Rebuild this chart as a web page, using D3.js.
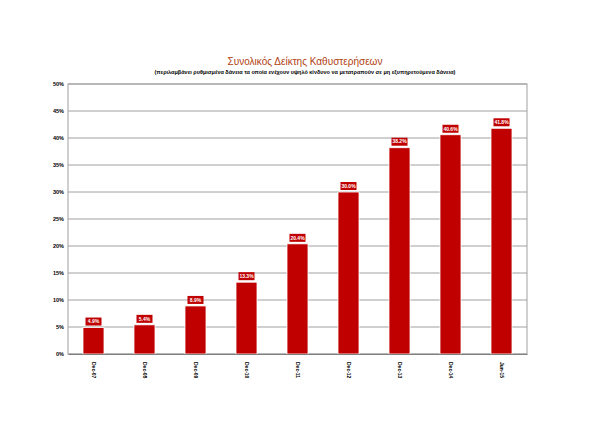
<!DOCTYPE html>
<html><head><meta charset="utf-8">
<script src="https://cdn.jsdelivr.net/npm/d3@7"></script>
<style>body{margin:0;background:#fff;font-family:Arial,"Liberation Sans",sans-serif}</style>
</head><body>
<script>
const categories = ['Dec-07','Dec-08','Dec-09','Dec-10','Dec-11','Dec-12','Dec-13','Dec-14','Jun-15']
const values = [4.9, 5.4, 8.9, 13.3, 20.4, 30.0, 38.2, 40.6, 41.8]
const yTicks = [0, 5, 10, 15, 20, 25, 30, 35, 40, 45, 50]

let width = 610, height = 431
let margin = { top: 84, bottom: 77, left: 68, right: 83 }

const svg = d3.select('body').append('svg').attr('width', width).attr('height', height)

svg.append('text').attr('x', 305).attr('y', 65).attr('text-anchor', 'middle')
  .style('font-size', '10px').style('fill', '#b0400f').text('Συνολικός Δείκτης Καθυστερήσεων')
svg.append('text').attr('x', 305).attr('y', 74).attr('text-anchor', 'middle')
  .style('font-size', '5.5px').style('font-weight', 'bold')
  .text('(περιλαμβάνει ρυθμισμένα δάνεια  τα οποία ενέχουν υψηλό κίνδυνο να μετατραπούν σε μη εξυπηρετούμενα δάνεια)')

const x = d3.scaleBand().domain(categories).range([margin.left, width - margin.right])
const y = d3.scaleLinear().domain([0, 50]).range([height - margin.bottom, margin.top])

// grid
svg.append('g').selectAll('line').data(yTicks).enter().append('line')
  .attr('x1', margin.left).attr('x2', width - margin.right)
  .attr('y1', d => y(d)).attr('y2', d => y(d))
  .style('stroke', '#a0a0a0').style('stroke-width', 1)
svg.append('rect').attr('x', margin.left).attr('y', margin.top)
  .attr('width', width - margin.left - margin.right).attr('height', y(0) - margin.top)
  .style('fill', 'none').style('stroke', '#a0a0a0')

// y axis
const ya = svg.append('g').attr('transform', `translate(${margin.left},0)`)
  .call(d3.axisLeft(y).tickValues(yTicks).tickSize(0).tickPadding(4).tickFormat(d => d + '%'))
ya.select('.domain').remove()
ya.selectAll('text').style('font-size', '5.5px').style('font-weight', 'bold').style('font-family', 'Arial')

// bars
const bw = 21
svg.append('g').selectAll('rect').data(values).enter().append('rect')
  .attr('x', (d, i) => x(categories[i]) + x.bandwidth() / 2 - bw / 2)
  .attr('y', d => y(d)).attr('width', bw).attr('height', d => y(0) - y(d))
  .style('fill', '#c00000').style('stroke', '#fff').style('stroke-width', 0.8)

// value labels
const lab = svg.append('g').selectAll('g').data(values).enter().append('g')
  .attr('transform', (d, i) => `translate(${x(categories[i]) + x.bandwidth() / 2},${y(d) - 6})`)
lab.append('rect').attr('x', -8).attr('y', -4).attr('width', 16).attr('height', 8).style('fill', '#c00000')
lab.append('text').attr('text-anchor', 'middle').attr('dy', '0.35em')
  .style('font-size', '5px').style('font-weight', 'bold').style('fill', '#fff').text(d => d.toFixed(1) + '%')

// x axis
const xa = svg.append('g').attr('transform', `translate(0,${y(0)})`)
  .call(d3.axisBottom(x).tickSize(0).tickPadding(0))
xa.select('.domain').style('stroke', '#808080')
xa.selectAll('text').attr('transform', 'rotate(90)').attr('x', 8).attr('y', 0).attr('dy', '0.35em')
  .style('text-anchor', 'start').style('font-size', '5px').style('font-weight', 'bold').style('font-family', 'Arial')
</script>
</body></html>
